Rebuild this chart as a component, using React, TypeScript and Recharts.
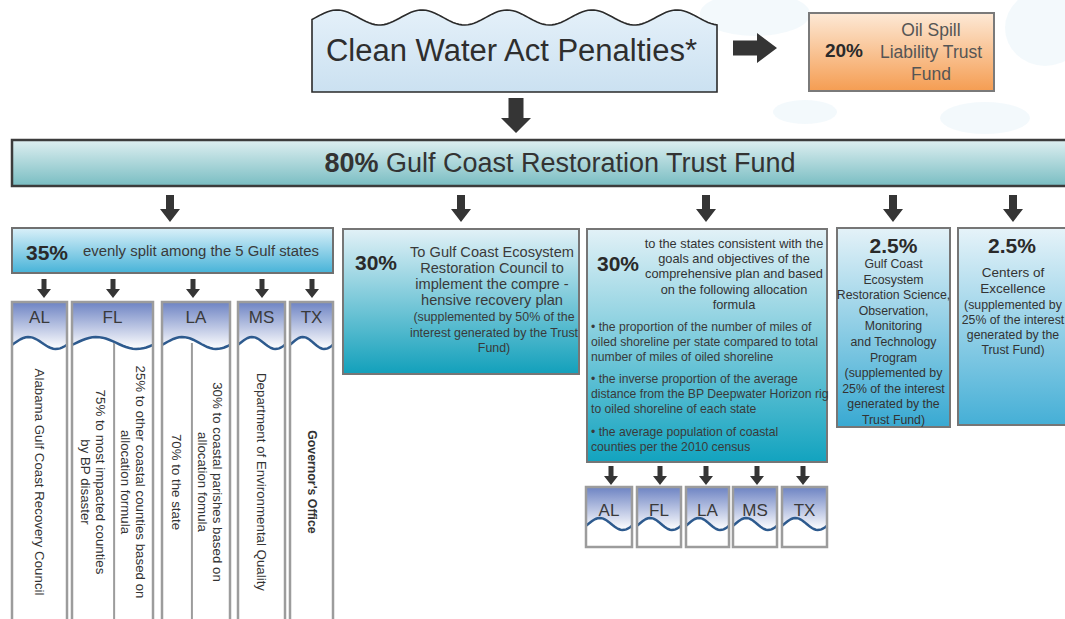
import React from 'react';
import { ComposedChart, XAxis, YAxis, ReferenceArea } from 'recharts';

// ---- content of the flow chart ----
const sourceLabel = 'Clean Water Act Penalties*';
const oilSpillShare = '20%';
const oilSpillName = ['Oil Spill', 'Liability Trust', 'Fund'];
const trustShare = '80%';
const trustName = 'Gulf Coast Restoration Trust Fund';

const stateShare = '35%';
const stateShareNote = 'evenly split among the 5 Gulf states';
const gulfStates = ['AL', 'FL', 'LA', 'MS', 'TX'];
const stateRecipients: string[][][] = [
  [['Alabama Gulf Coast Recovery Council']],
  [
    ['75% to most impacted counties', 'by BP disaster'],
    ['25% to other coastal counties based on', 'allocation formula'],
  ],
  [['70% to the state'], ['30% to coastal parishes based on', 'allocation fomula']],
  [['Department of Environmental Quality']],
  [["Governor's Office"]],
];

const councilShare = '30%';
const councilName = ['To Gulf Coast Ecosystem', 'Restoration Council to', 'implement the compre -', 'hensive recovery plan'];
const councilNote = ['(supplemented by 50% of the', 'interest generated by the Trust', 'Fund)'];

const formulaShare = '30%';
const formulaName = [
  'to the states consistent with the',
  'goals and objectives of the',
  'comprehensive plan and based',
  'on the following allocation',
  'formula',
];
const formulaBullets = [
  ['\u2022  the proportion of the number of miles of', 'oiled shoreline per state compared to total', 'number of miles of oiled shoreline'],
  ['\u2022 the inverse proportion of the average', 'distance from the BP Deepwater Horizon rig', 'to oiled shoreline of each state'],
  ['\u2022 the average population of coastal', 'counties per the 2010 census'],
];

const scienceShare = '2.5%';
const scienceName = [
  'Gulf Coast', 'Ecosystem', 'Restoration Science,', 'Observation,', 'Monitoring',
  'and Technology', 'Program', '(supplemented by', '25% of the interest', 'generated by the', 'Trust Fund)',
];
const centersShare = '2.5%';
const centersName = ['Centers of', 'Excellence'];
const centersNote = ['(supplemented by', '25% of the interest', 'generated by the', 'Trust Fund)'];

// ---- layout (diagram units = pixels) ----
const W = 1065;
const H = 619;
const FONT = '"Liberation Sans", Arial, Helvetica, sans-serif';
const INK = '#333333';

const sourceBox = { x1: 312, x2: 717, y1: 8, y2: 92 };
const oilBox = { x1: 809, x2: 994, y1: 13, y2: 91 };
const trustBand = { x1: 12, x2: 1075, y1: 140, y2: 186 };
const splitBox = { x1: 12, x2: 333, y1: 228, y2: 273 };
const councilBox = { x1: 343, x2: 579, y1: 229, y2: 374 };
const formulaBox = { x1: 587, x2: 827, y1: 229, y2: 462 };
const scienceBox = { x1: 837, x2: 950, y1: 228, y2: 427 };
const centersBox = { x1: 958, x2: 1075, y1: 228, y2: 425 };
const columnX = [[12, 67], [72, 153], [162, 230], [238, 285], [290, 333]];
const columnSplit = [0, 0.52, 0.44, 0, 0];
const columnY = [302, 630];
const smallBoxX = [[586, 632], [637, 681], [686, 729], [733, 777], [782, 827]];
const smallBoxY = [487, 547];
const bandArrowX = [170, 461, 706, 893, 1013];
const columnArrowX = [44, 113, 193, 262, 312];
const smallArrowX = [611, 660, 706, 757, 803];
const blobs = [
  { cx: 755, cy: 14, rx: 55, ry: 22 },
  { cx: 1045, cy: 28, rx: 40, ry: 38 },
  { cx: 985, cy: 118, rx: 45, ry: 16 },
  { cx: 805, cy: 112, rx: 32, ry: 12 },
];

type Shape = { x: number; y: number; width: number; height: number };

function Grad({ id, top, bottom }: { id: string; top: string; bottom: string }) {
  return (
    <defs>
      <linearGradient id={id} x1="0" y1="0" x2="0" y2="1">
        <stop offset="0%" stopColor={top} />
        <stop offset="100%" stopColor={bottom} />
      </linearGradient>
    </defs>
  );
}

function Lines(props: {
  x: number; y: number; lines: string[]; size: number; lh: number;
  anchor?: 'start' | 'middle' | 'end'; weight?: number; fill?: string;
}) {
  const { x, y, lines, size, lh, anchor = 'middle', weight = 400, fill = INK } = props;
  return (
    <text fontFamily={FONT} fontSize={size} fontWeight={weight} fill={fill} textAnchor={anchor} dominantBaseline="central">
      {lines.map((t, i) => (
        <tspan key={i} x={x} y={y + i * lh}>{t}</tspan>
      ))}
    </text>
  );
}

function VLines({ cx, cy, lines, size, lh, weight = 400 }: { cx: number; cy: number; lines: string[]; size: number; lh: number; weight?: number }) {
  const n = lines.length;
  return (
    <text
      transform={`rotate(90 ${cx} ${cy})`}
      fontFamily={FONT} fontSize={size} fontWeight={weight} fill={INK}
      textAnchor="middle" dominantBaseline="central"
    >
      {lines.map((t, i) => (
        <tspan key={i} x={cx} y={cy + (i - (n - 1) / 2) * lh}>{t}</tspan>
      ))}
    </text>
  );
}

function arrowDown(p: Shape, shaft: number, head: number) {
  const { x, y, width: w, height: h } = p;
  const cx = x + w / 2;
  const hy = y + h - head;
  return (
    <path
      d={`M${cx - shaft / 2},${y} L${cx + shaft / 2},${y} L${cx + shaft / 2},${hy} L${x + w},${hy} L${cx},${y + h} L${x},${hy} L${cx - shaft / 2},${hy} Z`}
      fill="#353535"
    />
  );
}

function arrowRight(p: Shape, shaft: number, head: number) {
  const { x, y, width: w, height: h } = p;
  const cy = y + h / 2;
  const hx = x + w - head;
  return (
    <path
      d={`M${x},${cy - shaft / 2} L${hx},${cy - shaft / 2} L${hx},${y} L${x + w},${cy} L${hx},${y + h} L${hx},${cy + shaft / 2} L${x},${cy + shaft / 2} Z`}
      fill="#353535"
    />
  );
}

function wavePoints(x: number, w: number, mid: number, amp: number) {
  const pts: string[] = [];
  for (let i = 0; i <= 24; i++) {
    const t = i / 24;
    pts.push(`${x + t * w},${mid - amp * Math.sin(2 * Math.PI * (t - 0.05))}`);
  }
  return pts;
}

function stateHeader(p: Shape, code: string, id: string, headH: number, textY: number, size: number) {
  const { x, y, width: w, height: h } = p;
  const mid = y + headH;
  const pts = wavePoints(x, w, mid, 6);
  return (
    <g>
      <Grad id={id} top="#6d83c3" bottom="#ffffff" />
      <rect x={x} y={y} width={w} height={h} fill="#ffffff" />
      <path d={`M${x},${y} L${x + w},${y} L${[...pts].reverse().join(' L')} Z`} fill={`url(#${id})`} />
      <path d={`M${pts.join(' L')}`} fill="none" stroke="#2d5a8e" strokeWidth={2.5} />
      <rect x={x} y={y} width={w} height={h} fill="none" stroke="#9c9c9c" strokeWidth={2.5} />
      <Lines x={x + w / 2} y={y + textY} lines={[code]} size={size} lh={0} fill="#3a3a3a" />
    </g>
  );
}

function box(p: Shape, id: string, top: string, bottom: string, stroke: string, sw = 2) {
  return (
    <g>
      <Grad id={id} top={top} bottom={bottom} />
      <rect x={p.x} y={p.y} width={p.width} height={p.height} fill={`url(#${id})`} stroke={stroke} strokeWidth={sw} />
    </g>
  );
}

export default function App() {
  return (
    <div style={{ position: 'absolute', left: 0, top: 0, background: '#ffffff' }}>
      <ComposedChart width={W} height={H} margin={{ top: 0, right: 0, bottom: 0, left: 0 }}>
        <XAxis type="number" dataKey="x" domain={[0, W]} hide allowDataOverflow />
        <YAxis type="number" dataKey="y" domain={[0, H]} reversed hide allowDataOverflow />

        {blobs.map((b, i) => (
          <ReferenceArea
            key={`blob-${i}`}
            x1={b.cx - b.rx} x2={b.cx + b.rx} y1={b.cy - b.ry} y2={b.cy + b.ry}
            ifOverflow="visible"
            shape={(p: Shape) => (
              <ellipse cx={p.x + p.width / 2} cy={p.y + p.height / 2} rx={p.width / 2} ry={p.height / 2} fill="#eaf4f9" opacity={0.55} />
            )}
          />
        ))}

        {/* source */}
        <ReferenceArea
          {...sourceBox}
          ifOverflow="visible"
          shape={(p: Shape) => {
            const { x, y, width: w, height: h } = p;
            const pts: string[] = [];
            for (let px = 0; px <= w; px += 3) {
              pts.push(`${x + px},${y + 9.5 - 7.5 * Math.cos((2 * Math.PI * (px - 25)) / 85)}`);
            }
            return (
              <g>
                <Grad id="g-src" top="#e4f0f9" bottom="#cbe1f1" />
                <path d={`M${x},${y + h} L${pts.join(' L')} L${x + w},${y + h} Z`} fill="url(#g-src)" stroke="#2a2a2a" strokeWidth={1.6} />
                <Lines x={x + w / 2 - 3} y={y + 42} lines={[sourceLabel]} size={31} lh={0} fill="#2e2e2e" />
              </g>
            );
          }}
        />
        <ReferenceArea x1={733} x2={777} y1={33} y2={63} ifOverflow="visible" shape={(p: Shape) => arrowRight(p, 15, 20)} />

        {/* oil spill fund */}
        <ReferenceArea
          {...oilBox}
          ifOverflow="visible"
          shape={(p: Shape) => (
            <g>
              {box(p, 'g-oil', '#fde9d6', '#f59d52', '#7a7a7a', 2)}
              <Lines x={p.x + 35} y={p.y + 37} lines={[oilSpillShare]} size={19} lh={0} weight={700} fill="#2a2a2a" />
              <Lines x={p.x + 122} y={p.y + 17} lines={oilSpillName} size={17.5} lh={22} fill="#555555" />
            </g>
          )}
        />
        <ReferenceArea x1={501} x2={531} y1={98} y2={133} ifOverflow="visible" shape={(p: Shape) => arrowDown(p, 15, 15)} />

        {/* trust fund band */}
        <ReferenceArea
          {...trustBand}
          ifOverflow="visible"
          shape={(p: Shape) => (
            <g>
              {box(p, 'g-band', '#deeff1', '#79bdc2', '#3c3c3c', 2.5)}
              <text x={560} y={p.y + 23} fontFamily={FONT} fontSize={27} fill="#333333" textAnchor="middle" dominantBaseline="central">
                <tspan fontWeight={700}>{trustShare}</tspan>
                <tspan> {trustName}</tspan>
              </text>
            </g>
          )}
        />
        {bandArrowX.map((cx, i) => (
          <ReferenceArea key={`ba-${i}`} x1={cx - 10} x2={cx + 10} y1={195} y2={222} ifOverflow="visible" shape={(p: Shape) => arrowDown(p, 8, 13)} />
        ))}

        {/* 35% to the states */}
        <ReferenceArea
          {...splitBox}
          ifOverflow="visible"
          shape={(p: Shape) => (
            <g>
              {box(p, 'g-split', '#daf0f9', '#47b3d8', '#707070', 2)}
              <Lines x={p.x + 35} y={p.y + 24} lines={[stateShare]} size={21} lh={0} weight={700} fill="#2a2a2a" />
              <Lines x={p.x + 71} y={p.y + 23} lines={[stateShareNote]} size={14.9} lh={0} anchor="start" fill="#3a3a3a" />
            </g>
          )}
        />
        {columnArrowX.map((cx, i) => (
          <ReferenceArea key={`ca-${i}`} x1={cx - 7} x2={cx + 7} y1={279} y2={298} ifOverflow="visible" shape={(p: Shape) => arrowDown(p, 5, 9)} />
        ))}
        {gulfStates.map((code, i) => (
          <ReferenceArea
            key={`col-${code}`}
            x1={columnX[i][0]} x2={columnX[i][1]} y1={columnY[0]} y2={columnY[1]}
            ifOverflow="visible"
            shape={(p: Shape) => {
              const sections = stateRecipients[i];
              const split = columnSplit[i];
              const cy = p.y + 180;
              const divX = p.x + p.width * split;
              const bounds = sections.length > 1 ? [[p.x, divX], [divX, p.x + p.width]] : [[p.x, p.x + p.width]];
              return (
                <g>
                  {stateHeader(p, code, `g-col-${i}`, 41, 15, 17)}
                  {sections.length > 1 && (
                    <line x1={divX} x2={divX} y1={p.y + 41} y2={p.y + p.height} stroke="#9c9c9c" strokeWidth={2} />
                  )}
                  {sections.map((lines, j) => (
                    <VLines
                      key={j}
                      cx={(bounds[j][0] + bounds[j][1]) / 2}
                      cy={cy}
                      lines={lines}
                      size={code === 'TX' ? 12.3 : 13.3}
                      lh={15}
                      weight={code === 'TX' ? 700 : 400}
                    />
                  ))}
                </g>
              );
            }}
          />
        ))}

        {/* 30% council */}
        <ReferenceArea
          {...councilBox}
          ifOverflow="visible"
          shape={(p: Shape) => (
            <g>
              {box(p, 'g-council', '#e2f1f7', '#12a0bb', '#767676', 2)}
              <Lines x={p.x + 33} y={p.y + 33} lines={[councilShare]} size={21} lh={0} weight={700} fill="#2a2a2a" />
              <Lines x={p.x + 149} y={p.y + 23} lines={councilName} size={14.6} lh={16} fill="#3a3a3a" />
              <Lines x={p.x + 151} y={p.y + 88} lines={councilNote} size={12.4} lh={15.5} fill="#3a3a3a" />
            </g>
          )}
        />

        {/* 30% formula */}
        <ReferenceArea
          {...formulaBox}
          ifOverflow="visible"
          shape={(p: Shape) => (
            <g>
              {box(p, 'g-formula', '#e2f1f7', '#12a3bf', '#767676', 2)}
              <Lines x={p.x + 31} y={p.y + 34} lines={[formulaShare]} size={21} lh={0} weight={700} fill="#2a2a2a" />
              <Lines x={p.x + 147} y={p.y + 14} lines={formulaName} size={12.8} lh={15.2} fill="#333333" />
              {formulaBullets.map((lines, j) => (
                <Lines key={j} x={p.x + 4} y={p.y + [98, 150, 203][j]} lines={lines} size={12.2} lh={15} anchor="start" fill="#3a3a3a" />
              ))}
            </g>
          )}
        />
        {smallArrowX.map((cx, i) => (
          <ReferenceArea key={`sa-${i}`} x1={cx - 7} x2={cx + 7} y1={466} y2={485} ifOverflow="visible" shape={(p: Shape) => arrowDown(p, 5, 9)} />
        ))}
        {gulfStates.map((code, i) => (
          <ReferenceArea
            key={`sb-${code}`}
            x1={smallBoxX[i][0]} x2={smallBoxX[i][1]} y1={smallBoxY[0]} y2={smallBoxY[1]}
            ifOverflow="visible"
            shape={(p: Shape) => stateHeader(p, code, `g-sb-${i}`, 37, 23, 17)}
          />
        ))}

        {/* 2.5% science program */}
        <ReferenceArea
          {...scienceBox}
          ifOverflow="visible"
          shape={(p: Shape) => (
            <g>
              {box(p, 'g-sci', '#e4f2f8', '#38a9d2', '#767676', 2)}
              <Lines x={p.x + p.width / 2} y={p.y + 17} lines={[scienceShare]} size={21} lh={0} weight={700} fill="#2a2a2a" />
              <Lines x={p.x + p.width / 2} y={p.y + 36} lines={scienceName} size={12.3} lh={15.6} fill="#333333" />
            </g>
          )}
        />

        {/* 2.5% centers of excellence */}
        <ReferenceArea
          {...centersBox}
          ifOverflow="visible"
          shape={(p: Shape) => (
            <g>
              {box(p, 'g-ctr', '#e6f3f9', '#45afd6', '#767676', 2)}
              <Lines x={p.x + 54} y={p.y + 17} lines={[centersShare]} size={21} lh={0} weight={700} fill="#2a2a2a" />
              <Lines x={p.x + 55} y={p.y + 44} lines={centersName} size={13.5} lh={16} fill="#333333" />
              <Lines x={p.x + 55} y={p.y + 77} lines={centersNote} size={12.3} lh={15} fill="#333333" />
            </g>
          )}
        />
      </ComposedChart>
    </div>
  );
}
